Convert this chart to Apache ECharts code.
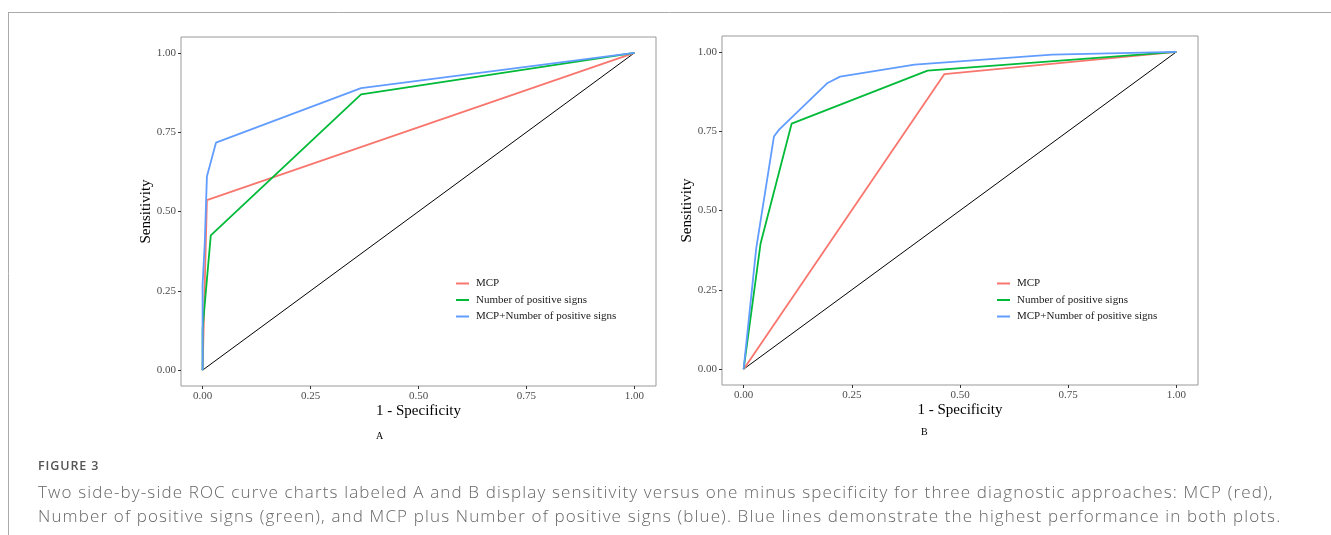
<!DOCTYPE html>
<html>
<head>
<meta charset="utf-8">
<script src="https://cdn.jsdelivr.net/npm/echarts@6/dist/echarts.min.js"></script>
<style>
  html, body { margin: 0; padding: 0; background: #fff; }
  #wrap { position: relative; width: 1331px; height: 535px; }
  #main { width: 1331px; height: 535px; }
  .cap { position: absolute; left: 38px; font-family: 'Open Sans'; white-space: nowrap; }
  #figno { top: 457px; font-size: 12.5px; font-weight: 600; color: #555; letter-spacing: 0.9px; }
  .line { font-size: 17px; font-weight: 300; color: #666; letter-spacing: 1.14px; }
  #l1 { top: 480px; }
  #l2 { top: 504px; }
</style>
</head>
<body>
<div id="wrap">
  <div id="main"></div>
  <div class="cap" id="figno">FIGURE 3</div>
  <div class="cap line" id="l1">Two side-by-side ROC curve charts labeled A and B display sensitivity versus one minus specificity for three diagnostic approaches: MCP (red),</div>
  <div class="cap line" id="l2">Number of positive signs (green), and MCP plus Number of positive signs (blue). Blue lines demonstrate the highest performance in both plots.</div>
</div>
<script>
// 数据：ROC 曲线拐点
var seriesNames = ['MCP', 'Number of positive signs', 'MCP+Number of positive signs'];
var seriesColors = ['#F8766D', '#00BA38', '#619CFF'];
var tickValues = [0, 0.25, 0.5, 0.75, 1];

// A 图
var a_mcp_x = [0, 0.010, 1];
var a_mcp_y = [0, 0.536, 1];
var a_num_x = [0, 0, 0.019, 0.367, 1];
var a_num_y = [0, 0.13, 0.425, 0.869, 1];
var a_both_x = [0, 0, 0.005, 0.010, 0.031, 0.367, 1];
var a_both_y = [0, 0.27, 0.40, 0.610, 0.717, 0.889, 1];

// B 图
var b_mcp_x = [0, 0.464, 1];
var b_mcp_y = [0, 0.930, 1];
var b_num_x = [0, 0.039, 0.111, 0.425, 1];
var b_num_y = [0, 0.395, 0.774, 0.941, 1];
var b_both_x = [0, 0.029, 0.070, 0.082, 0.194, 0.223, 0.395, 0.713, 1];
var b_both_y = [0, 0.380, 0.733, 0.755, 0.902, 0.922, 0.960, 0.991, 1];

var diag_x = [0, 1];
var diag_y = [0, 1];

function zip(xs, ys) {
  var out = [];
  for (var i = 0; i < xs.length; i++) {
    out.push([xs[i], ys[i]]);
  }
  return out;
}

var myChart = echarts.init(document.getElementById('main'));

var serif = 'Liberation Serif';

function makeAxis(isX, idx, name) {
  return {
    type: 'value',
    gridIndex: idx,
    min: -0.05,
    max: 1.05,
    name: name,
    nameLocation: 'middle',
    nameGap: isX ? 18 : 27.5,
    nameMoveOverlap: false,
    nameTextStyle: { fontFamily: serif, fontSize: 15, color: '#000' },
    axisLine: { show: false, onZero: false },
    splitLine: { show: false },
    axisTick: {
      show: true,
      length: 3,
      customValues: tickValues,
      lineStyle: { color: '#333', width: 1 }
    },
    axisLabel: {
      fontFamily: serif,
      fontSize: 11,
      color: '#4D4D4D',
      margin: 5,
      customValues: tickValues,
      formatter: function (v) { return v.toFixed(2); }
    }
  };
}

function makeLegend(left, top) {
  return {
    orient: 'vertical',
    left: left,
    top: top,
    icon: 'rect',
    itemWidth: 13,
    itemHeight: 2,
    itemGap: 5.5,
    selectedMode: false,
    textStyle: { fontFamily: serif, fontSize: 11, color: '#1a1a1a', padding: [0, 0, 0, 2] },
    data: seriesNames
  };
}

function makeSeries(idx, pairs) {
  var list = [];
  for (var i = 0; i < pairs.length; i++) {
    list.push({
      name: seriesNames[i],
      type: 'line',
      xAxisIndex: idx,
      yAxisIndex: idx,
      data: pairs[i],
      symbol: 'none',
      z: 3,
      lineStyle: { color: seriesColors[i], width: 1.8 },
      itemStyle: { color: seriesColors[i] }
    });
  }
  list.push({
    name: 'ref',
    type: 'line',
    xAxisIndex: idx,
    yAxisIndex: idx,
    data: zip(diag_x, diag_y),
    symbol: 'none',
    z: 2,
    lineStyle: { color: '#000', width: 1 }
  });
  return list;
}

option = {
  animation: false,
  backgroundColor: '#fff',
  grid: [
    { left: 181, top: 37, width: 475, height: 349, show: true, borderColor: '#999', borderWidth: 1, containLabel: false },
    { left: 722, top: 36, width: 476, height: 349, show: true, borderColor: '#999', borderWidth: 1, containLabel: false }
  ],
  xAxis: [makeAxis(true, 0, '1 - Specificity'), makeAxis(true, 1, '1 - Specificity')],
  yAxis: [makeAxis(false, 0, 'Sensitivity'), makeAxis(false, 1, 'Sensitivity')],
  legend: [makeLegend(451, 273), makeLegend(992, 273)],
  series: makeSeries(0, [zip(a_mcp_x, a_mcp_y), zip(a_num_x, a_num_y), zip(a_both_x, a_both_y)])
    .concat(makeSeries(1, [zip(b_mcp_x, b_mcp_y), zip(b_num_x, b_num_y), zip(b_both_x, b_both_y)])),
  graphic: [
    // 页面边框
    { type: 'line', shape: { x1: 8, y1: 12.5, x2: 1331, y2: 12.5 }, style: { stroke: '#aaa', lineWidth: 1 } },
    { type: 'line', shape: { x1: 8.5, y1: 12, x2: 8.5, y2: 535 }, style: { stroke: '#aaa', lineWidth: 1 } },
    // 子图标签
    { type: 'text', left: 376, top: 431, style: { text: 'A', fontFamily: serif, fontSize: 10, fill: '#000' } },
    { type: 'text', left: 921, top: 427, style: { text: 'B', fontFamily: serif, fontSize: 10, fill: '#000' } }
  ]
};

myChart.setOption(option);
</script>
</body>
</html>
